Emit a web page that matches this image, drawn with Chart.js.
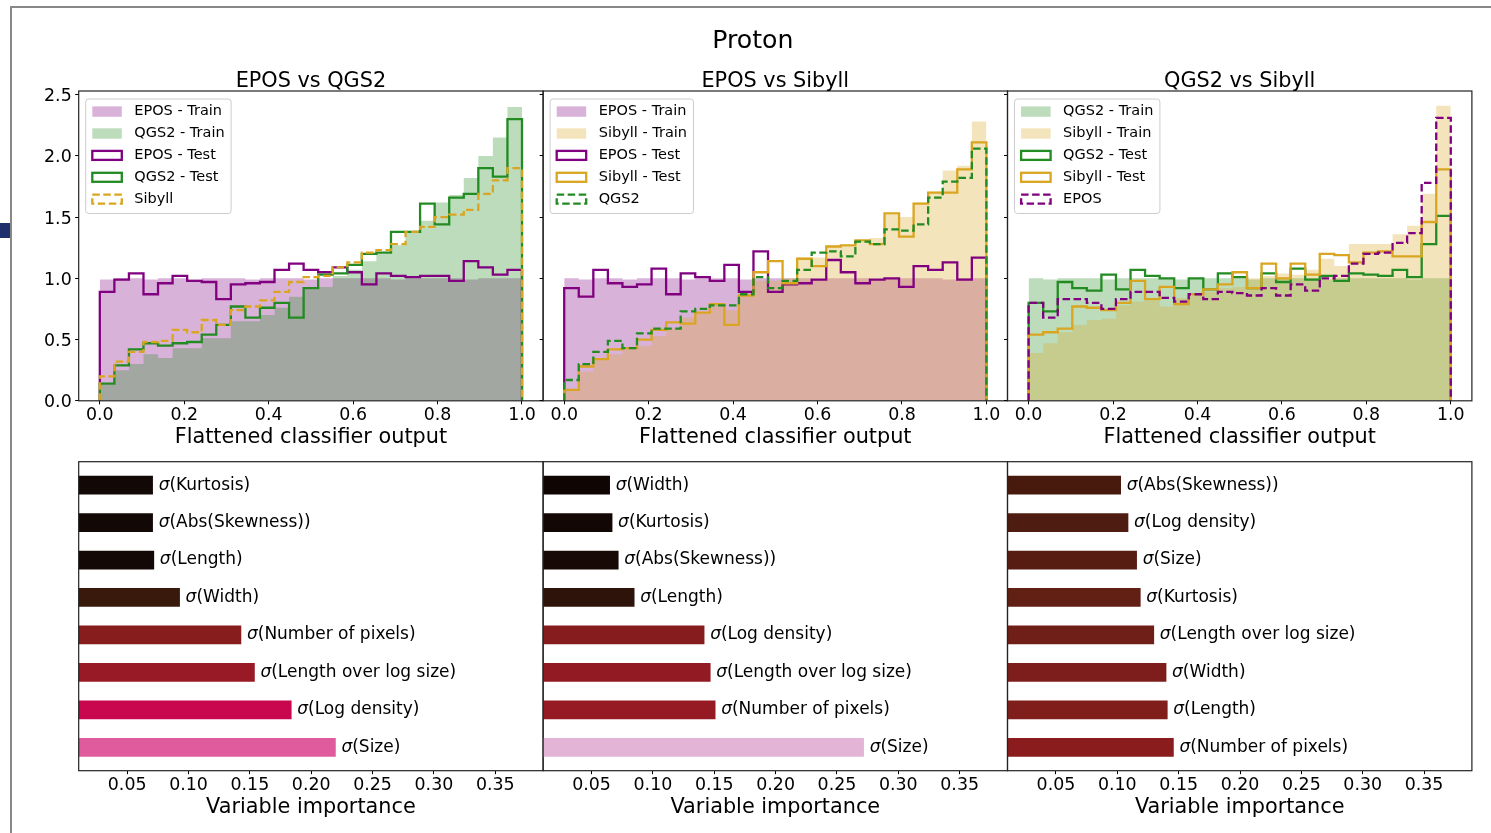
<!DOCTYPE html>
<html>
<head>
<meta charset="utf-8">
<title>Proton</title>
<script src="https://cdn.jsdelivr.net/npm/chart.js@4.4.1/dist/chart.umd.min.js"></script>
<style>
  body { margin: 0; background: #fff; }
  #page { position: relative; width: 1491px; height: 833px; overflow: hidden; background: #fff; }
  #page canvas { position: absolute; left: 0; top: 0; }
  .frameTop { position: absolute; left: 10px; top: 6px; width: 1481px; height: 2px; background: #888; }
  .frameLeft { position: absolute; left: 10px; top: 6px; width: 2px; height: 827px; background: #888; }
  .mark { position: absolute; left: 0; top: 223px; width: 10px; height: 15px; background: #1f2e6c; }
</style>
</head>
<body>
<div id="page">
  <div class="frameTop"></div>
  <div class="frameLeft"></div>
  <div class="mark"></div>
  <canvas id="hist0" width="1491" height="833"></canvas>
  <canvas id="hist1" width="1491" height="833"></canvas>
  <canvas id="hist2" width="1491" height="833"></canvas>
  <canvas id="imp0" width="1491" height="833"></canvas>
  <canvas id="imp1" width="1491" height="833"></canvas>
  <canvas id="imp2" width="1491" height="833"></canvas>
</div>
<script>
// ---- data ----
const N_BINS = 29;
const binEdges = Array.from({length: N_BINS + 1}, (_, i) => i / N_BINS);
const histXTicks = [0, 0.2, 0.4, 0.6, 0.8, 1.0];
const histYTicks = [0, 0.5, 1.0, 1.5, 2.0, 2.5];
const impXTicks = [0.05, 0.10, 0.15, 0.20, 0.25, 0.30, 0.35];

// EPOS vs QGS2
const eposTrainEQ = [0.99,1.00,1.00,0.99,1.00,1.00,0.99,1.00,1.00,1.00,0.99,1.00,1.00,1.00,0.99,1.00,1.00,1.00,1.00,1.00,0.99,1.00,1.00,1.00,1.00,0.99,1.00,1.00,1.00];
const qgsTrainEQ  = [0.13,0.25,0.30,0.38,0.35,0.43,0.43,0.51,0.51,0.65,0.65,0.70,0.76,0.85,0.91,0.93,1.02,1.07,1.14,1.20,1.27,1.37,1.47,1.62,1.68,1.82,2.00,2.15,2.40];
const eposTestEQ  = [0.89,0.99,1.04,0.87,0.96,1.02,0.98,0.97,0.83,0.95,0.96,0.97,1.07,1.12,1.07,1.05,1.09,1.05,0.95,1.04,1.02,1.01,1.02,1.02,0.98,1.14,1.09,1.03,1.07];
const qgsTestEQ   = [0.14,0.29,0.42,0.47,0.45,0.47,0.48,0.54,0.62,0.77,0.68,0.76,0.80,0.68,0.92,1.03,1.04,1.11,1.20,1.21,1.38,1.38,1.61,1.44,1.66,1.69,1.90,1.83,2.30];
const sibyllEQ    = [0.20,0.32,0.40,0.48,0.49,0.58,0.56,0.66,0.62,0.74,0.77,0.82,0.89,0.97,1.01,1.02,1.09,1.13,1.21,1.23,1.28,1.38,1.42,1.50,1.52,1.56,1.69,1.80,1.90];

// EPOS vs Sibyll
const eposTrainES = [1.00,0.99,1.00,1.00,0.99,1.00,1.00,1.00,0.99,1.00,1.00,1.00,0.99,1.00,1.00,1.00,1.00,0.99,1.00,1.00,1.00,0.99,1.00,1.00,1.00,1.00,0.99,1.00,1.00];
const sibTrainES  = [0.08,0.24,0.34,0.38,0.42,0.45,0.53,0.59,0.68,0.72,0.78,0.74,0.87,0.98,0.98,1.00,1.17,1.17,1.27,1.26,1.30,1.33,1.52,1.50,1.62,1.71,1.88,1.92,2.28];
const eposTestES  = [0.92,0.85,1.07,0.96,0.93,0.95,1.08,0.87,1.04,1.01,0.98,1.11,0.89,1.22,0.89,0.95,0.96,0.99,1.15,1.05,0.96,0.99,1.00,0.93,1.10,1.07,1.13,0.99,1.17];
const sibTestES   = [0.09,0.28,0.34,0.42,0.43,0.50,0.58,0.64,0.63,0.72,0.79,0.62,0.86,1.05,1.14,0.96,1.16,1.10,1.26,1.27,1.31,1.28,1.53,1.34,1.61,1.70,1.70,1.89,2.11];
const qgsES       = [0.17,0.30,0.40,0.49,0.43,0.55,0.59,0.59,0.73,0.75,0.78,0.78,0.87,1.01,0.92,0.98,1.07,1.21,1.22,1.18,1.30,1.28,1.40,1.39,1.44,1.66,1.79,1.82,2.06];

// QGS2 vs Sibyll
const qgsTrainQS  = [1.00,0.99,1.00,1.00,1.00,0.99,1.00,1.00,1.00,1.00,0.99,1.00,1.00,1.00,1.00,0.99,1.00,1.00,1.00,1.00,0.99,1.00,1.00,1.00,1.00,1.00,0.99,1.00,1.00];
const sibTrainQS  = [0.39,0.47,0.56,0.62,0.66,0.67,0.78,0.81,0.82,0.77,0.84,0.86,0.89,0.92,0.93,1.00,1.02,1.04,1.03,1.07,1.16,1.10,1.28,1.28,1.28,1.36,1.43,1.69,2.41];
const qgsTestQS   = [0.80,0.73,0.97,0.92,0.90,1.03,0.91,1.07,1.02,1.00,0.92,1.00,0.91,1.04,1.01,0.92,1.04,0.97,1.08,0.99,1.02,0.98,1.04,1.03,1.02,1.07,1.01,1.28,1.51];
const sibTestQS   = [0.54,0.56,0.59,0.77,0.76,0.74,0.80,0.98,0.83,0.93,0.79,0.87,0.91,0.95,1.05,0.92,1.12,1.00,1.12,1.03,1.20,1.19,1.13,1.21,1.22,1.18,1.18,1.46,1.89];
const eposQS      = [0.80,0.68,0.83,0.83,0.80,0.75,0.83,0.89,0.89,0.84,0.81,0.87,0.83,0.89,0.88,0.86,0.92,0.86,0.95,0.90,1.00,1.02,1.12,1.20,1.21,1.29,1.37,1.78,2.31];

// variable importance, top to bottom
const impNamesEQ = ['Kurtosis', 'Abs(Skewness)', 'Length', 'Width', 'Number of pixels', 'Length over log size', 'Log density', 'Size'];
const impValsEQ  = [0.071, 0.071, 0.072, 0.093, 0.143, 0.154, 0.184, 0.220];
const impNamesES = ['Width', 'Kurtosis', 'Abs(Skewness)', 'Length', 'Log density', 'Length over log size', 'Number of pixels', 'Size'];
const impValsES  = [0.065, 0.067, 0.072, 0.085, 0.142, 0.147, 0.151, 0.272];
const impNamesQS = ['Abs(Skewness)', 'Log density', 'Size', 'Kurtosis', 'Length over log size', 'Width', 'Length', 'Number of pixels'];
const impValsQS  = [0.103, 0.109, 0.116, 0.119, 0.130, 0.140, 0.141, 0.146];

const impColorsEQ = ['#120805', '#120805', '#130806', '#3a190d', '#871d1d', '#981a26', '#c9074f', '#e05a9e'];
const impColorsES = ['#0f0503', '#130705', '#170906', '#2d130a', '#871c1e', '#921a22', '#961a24', '#e4b4d6'];
const impColorsQS = ['#481a0e', '#4e1c10', '#581d12', '#621f14', '#701f18', '#7e1e1c', '#801e1c', '#8a1c1e'];

// ---- style / layout ----
const FONT = "'DejaVu Sans', sans-serif";
const PURPLE = [128, 0, 128], GREEN = [34, 139, 34], GOLD = [218, 165, 32];
const W = 1491, H = 833;
const AX_LEFT = [78.7, 543.1, 1007.5];
const AX_W = 464.4;
const HIST_TOP = 91, HIST_BOTTOM = 400.8;
const BAR_TOP = 461.7, BAR_BOTTOM = 770.7;
const Y_AXIS_W = 60;
const X_AXIS_H = 49.7;

Chart.defaults.font.family = FONT;
Chart.defaults.color = '#000';

function rgba(c, a) { return `rgba(${c[0]},${c[1]},${c[2]},${a})`; }

// outline of a histogram: up from 0 at the first edge, across each bin, down at the last edge
function toSteps(vals) {
  const pts = [{x: binEdges[0], y: 0}];
  vals.forEach((v, i) => pts.push({x: binEdges[i], y: v}));
  pts.push({x: binEdges[vals.length], y: 0});
  return pts;
}

const framePlugin = {
  id: 'frame',
  afterDatasetsDraw(chart) {
    const {ctx, chartArea: a} = chart;
    ctx.save();
    ctx.strokeStyle = '#222';
    ctx.lineWidth = 1.2;
    ctx.strokeRect(a.left, a.top, a.right - a.left, a.bottom - a.top);
    ctx.restore();
  }
};

const titlePlugin = {
  id: 'panelTitle',
  afterDraw(chart, args, opts) {
    const {ctx, chartArea: a} = chart;
    ctx.save();
    ctx.fillStyle = '#000';
    ctx.textAlign = 'center';
    ctx.textBaseline = 'alphabetic';
    if (opts.text) {
      ctx.font = `20.8px ${FONT}`;
      ctx.fillText(opts.text, (a.left + a.right) / 2, a.top - 4.5);
    }
    if (opts.sup) {
      ctx.font = `25.2px ${FONT}`;
      ctx.fillText(opts.sup, 752.8, 48);
    }
    ctx.restore();
  }
};

const legendPlugin = {
  id: 'histLegend',
  afterDraw(chart) {
    const {ctx, chartArea: a} = chart;
    const sets = chart.data.datasets;
    ctx.save();
    ctx.font = `14.5px ${FONT}`;
    const textW = Math.max(...sets.map(d => ctx.measureText(d.label).width));
    const x0 = a.left + 7, y0 = a.top + 8;
    const w = 48.6 + textW + 6.5, h = 114.5;
    ctx.beginPath();
    ctx.roundRect(x0, y0, w, h, 3);
    ctx.fillStyle = 'rgba(255,255,255,0.8)';
    ctx.fill();
    ctx.strokeStyle = '#ccc';
    ctx.lineWidth = 1;
    ctx.stroke();
    sets.forEach((d, i) => {
      const cy = y0 + 12.6 + i * 21.9;
      const hx = x0 + 6.6, hw = 29.5;
      if (d.kind === 'fill') {
        ctx.fillStyle = rgba(d.baseColor, 0.3);
        ctx.fillRect(hx, cy - 5.2, hw, 10.4);
      } else {
        ctx.strokeStyle = rgba(d.baseColor, 1);
        ctx.lineWidth = 2.3;
        ctx.setLineDash(d.kind === 'dash' ? [7.5, 3.5] : []);
        ctx.strokeRect(hx, cy - 4.5, hw, 9);
        ctx.setLineDash([]);
      }
      ctx.fillStyle = '#000';
      ctx.textAlign = 'left';
      ctx.textBaseline = 'middle';
      ctx.fillText(d.label, x0 + 48.6, cy);
    });
    ctx.restore();
  }
};

const barLabelPlugin = {
  id: 'barLabels',
  afterDatasetsDraw(chart, args, opts) {
    const {ctx} = chart;
    const meta = chart.getDatasetMeta(0);
    ctx.save();
    ctx.fillStyle = '#000';
    ctx.textAlign = 'left';
    ctx.textBaseline = 'middle';
    meta.data.forEach((bar, i) => {
      let x = bar.x + 5.7;
      ctx.font = `italic 17px ${FONT}`;
      ctx.fillText('σ', x, bar.y);
      x += ctx.measureText('σ').width;
      ctx.font = `17px ${FONT}`;
      ctx.fillText('(' + opts.names[i] + ')', x, bar.y);
    });
    ctx.restore();
  }
};

const tickFont = {family: FONT, size: 17.4, lineHeight: 1};
const labelFont = {family: FONT, size: 20.8, lineHeight: 1.2};

const histPanels = [
  {title: 'EPOS vs QGS2', yLabels: true, series: [
    {label: 'EPOS - Train', data: eposTrainEQ, color: PURPLE, kind: 'fill'},
    {label: 'QGS2 - Train', data: qgsTrainEQ, color: GREEN, kind: 'fill'},
    {label: 'EPOS - Test', data: eposTestEQ, color: PURPLE, kind: 'line'},
    {label: 'QGS2 - Test', data: qgsTestEQ, color: GREEN, kind: 'line'},
    {label: 'Sibyll', data: sibyllEQ, color: GOLD, kind: 'dash'}
  ]},
  {title: 'EPOS vs Sibyll', yLabels: false, sup: 'Proton', series: [
    {label: 'EPOS - Train', data: eposTrainES, color: PURPLE, kind: 'fill'},
    {label: 'Sibyll - Train', data: sibTrainES, color: GOLD, kind: 'fill'},
    {label: 'EPOS - Test', data: eposTestES, color: PURPLE, kind: 'line'},
    {label: 'Sibyll - Test', data: sibTestES, color: GOLD, kind: 'line'},
    {label: 'QGS2', data: qgsES, color: GREEN, kind: 'dash'}
  ]},
  {title: 'QGS2 vs Sibyll', yLabels: false, series: [
    {label: 'QGS2 - Train', data: qgsTrainQS, color: GREEN, kind: 'fill'},
    {label: 'Sibyll - Train', data: sibTrainQS, color: GOLD, kind: 'fill'},
    {label: 'QGS2 - Test', data: qgsTestQS, color: GREEN, kind: 'line'},
    {label: 'Sibyll - Test', data: sibTestQS, color: GOLD, kind: 'line'},
    {label: 'EPOS', data: eposQS, color: PURPLE, kind: 'dash'}
  ]}
];

histPanels.forEach((p, k) => {
  new Chart(document.getElementById('hist' + k), {
    type: 'line',
    data: {
      datasets: p.series.map((s, i) => ({
        label: s.label,
        kind: s.kind,
        baseColor: s.color,
        data: toSteps(s.data),
        stepped: 'before',
        pointRadius: 0,
        pointHoverRadius: 0,
        borderColor: s.kind === 'fill' ? 'rgba(0,0,0,0)' : rgba(s.color, 1),
        backgroundColor: rgba(s.color, 0.3),
        borderWidth: s.kind === 'fill' ? 0 : 2.3,
        borderDash: s.kind === 'dash' ? [7.5, 3.5] : [],
        borderJoinStyle: 'miter',
        borderCapStyle: 'butt',
        fill: s.kind === 'fill' ? 'origin' : false,
        order: p.series.length - i
      }))
    },
    options: {
      responsive: false,
      animation: false,
      events: [],
      layout: {padding: {
        left: AX_LEFT[k] - Y_AXIS_W,
        right: W - AX_LEFT[k] - AX_W,
        top: HIST_TOP,
        bottom: H - HIST_BOTTOM - X_AXIS_H
      }},
      plugins: {
        legend: {display: false},
        tooltip: {enabled: false},
        panelTitle: {text: p.title, sup: p.sup}
      },
      scales: {
        x: {
          type: 'linear', min: -0.05, max: 1.05,
          afterBuildTicks: s => { s.ticks = histXTicks.map(v => ({value: v})); },
          afterFit: s => { s.height = X_AXIS_H; },
          ticks: {callback: v => v.toFixed(1), font: tickFont, color: '#000', padding: 2.5, maxRotation: 0, autoSkip: false},
          grid: {drawOnChartArea: false, tickLength: 3.5, tickColor: '#000', tickWidth: 1},
          border: {display: false},
          title: {display: true, text: 'Flattened classifier output', font: labelFont, color: '#000', padding: 0}
        },
        y: {
          type: 'linear', min: 0, max: 2.53,
          afterBuildTicks: s => { s.ticks = histYTicks.map(v => ({value: v})); },
          afterFit: s => { s.width = Y_AXIS_W; },
          ticks: {display: p.yLabels, callback: v => v.toFixed(1), font: tickFont, color: '#000', padding: 3.5, labelOffset: 2, autoSkip: false},
          grid: {drawOnChartArea: false, tickLength: 3.5, tickColor: '#000', tickWidth: 1},
          border: {display: false}
        }
      }
    },
    plugins: [framePlugin, legendPlugin, titlePlugin]
  });
});

const impPanels = [
  {names: impNamesEQ, vals: impValsEQ, colors: impColorsEQ},
  {names: impNamesES, vals: impValsES, colors: impColorsES},
  {names: impNamesQS, vals: impValsQS, colors: impColorsQS}
];

impPanels.forEach((p, k) => {
  new Chart(document.getElementById('imp' + k), {
    type: 'bar',
    data: {
      datasets: [{
        data: p.vals.map((v, i) => ({x: v, y: i})),
        backgroundColor: p.colors,
        borderWidth: 0,
        barPercentage: 0.5,
        categoryPercentage: 1.0
      }]
    },
    options: {
      indexAxis: 'y',
      responsive: false,
      animation: false,
      events: [],
      layout: {padding: {
        left: AX_LEFT[k],
        right: W - AX_LEFT[k] - AX_W,
        top: BAR_TOP,
        bottom: H - BAR_BOTTOM - X_AXIS_H
      }},
      plugins: {
        legend: {display: false},
        tooltip: {enabled: false},
        barLabels: {names: p.names}
      },
      scales: {
        x: {
          type: 'linear', min: 0.0105, max: 0.389,
          afterBuildTicks: s => { s.ticks = impXTicks.map(v => ({value: v})); },
          afterFit: s => { s.height = X_AXIS_H; },
          ticks: {callback: v => v.toFixed(2), font: tickFont, color: '#000', padding: 2.5, maxRotation: 0, autoSkip: false},
          grid: {drawOnChartArea: false, tickLength: 3.5, tickColor: '#000', tickWidth: 1},
          border: {display: false},
          title: {display: true, text: 'Variable importance', font: labelFont, color: '#000', padding: 0}
        },
        y: {
          type: 'linear', min: -0.625, max: 7.625, reverse: true, offset: false, display: false,
          afterBuildTicks: s => { s.ticks = p.names.map((_, i) => ({value: i})); }
        }
      }
    },
    plugins: [framePlugin, barLabelPlugin]
  });
});
</script>
</body>
</html>
